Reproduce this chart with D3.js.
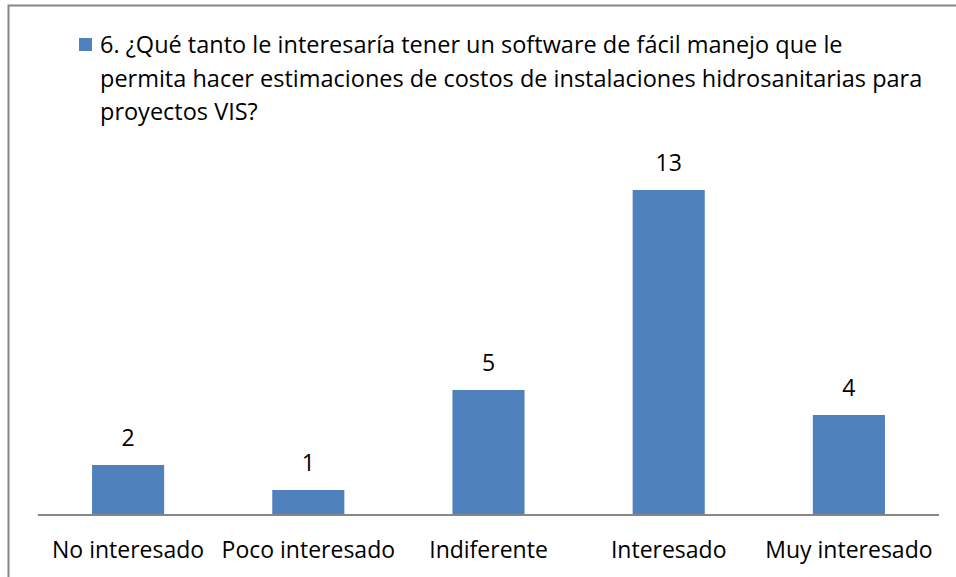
<!DOCTYPE html>
<html>
<head>
<meta charset="utf-8">
<script src="https://cdn.jsdelivr.net/npm/d3@7"></script>
<style>
  body { margin: 0; background: #fff; }
  text { font-family: "Open Sans", "Noto Sans", sans-serif; fill: #000; }
</style>
</head>
<body>
<div id="chart"></div>
<script>
// categories and counts
var categories = ["No interesado", "Poco interesado", "Indiferente", "Interesado", "Muy interesado"];
var counts = [2, 1, 5, 13, 4];
var legendLines = [
  "6. ¿Qué tanto le interesaría tener un software de fácil manejo que le",
  "permita hacer estimaciones de costos de instalaciones hidrosanitarias para",
  "proyectos VIS?"
];

var width = 956, height = 577;
var margin = { left: 38, right: 17, top: 0, bottom: 62 };
var barColor = "#4F81BD";
var fontStack = "'Open Sans', 'Noto Sans', sans-serif";

var svg = d3.select("#chart").append("svg")
    .attr("width", width).attr("height", height);

// outer frame
svg.append("rect")
    .attr("x", 8.5).attr("y", 5.5)
    .attr("width", 960).attr("height", 600)
    .attr("fill", "none").attr("stroke", "#868686").attr("stroke-width", 2);

var x = d3.scaleBand()
    .domain(categories)
    .range([margin.left, width - margin.right])
    .paddingInner(0.6).paddingOuter(0.3);

var y = d3.scaleLinear()
    .domain([0, 1])
    .range([515, 490]);

// bars
svg.selectAll(".bar").data(counts).enter().append("rect")
    .attr("class", "bar")
    .attr("x", function(d, i){ return x(categories[i]); })
    .attr("width", x.bandwidth())
    .attr("y", function(d){ return y(d); })
    .attr("height", function(d){ return y(0) - y(d); })
    .attr("fill", barColor);

// value labels
svg.selectAll(".val").data(counts).enter().append("text")
    .attr("class", "val")
    .attr("x", function(d, i){ return x(categories[i]) + x.bandwidth() / 2; })
    .attr("y", function(d){ return y(d) - 19; })
    .attr("text-anchor", "middle")
    .style("font-size", "23px")
    .text(function(d){ return d; });

// x axis
var xAxis = d3.axisBottom(x).tickSize(0).tickPadding(0);
var gx = svg.append("g")
    .attr("transform", "translate(0," + y(0) + ")")
    .call(xAxis);
gx.select(".domain").attr("stroke", "#868686").attr("stroke-width", 2)
    .attr("d", "M" + margin.left + ",0H" + (width - margin.right));
gx.selectAll(".tick text")
    .attr("dy", null).attr("y", 43)
    .style("font-size", "23px")
    .style("font-family", fontStack)
    .attr("fill", "#000");

// legend
svg.append("rect")
    .attr("x", 79).attr("y", 38).attr("width", 13).attr("height", 13)
    .attr("fill", barColor);
svg.selectAll(".leg").data(legendLines).enter().append("text")
    .attr("class", "leg")
    .attr("x", 100)
    .attr("y", function(d, i){ return 53 + i * 33.5; })
    .style("font-size", "23.5px")
    .text(function(d){ return d; });
</script>
</body>
</html>
